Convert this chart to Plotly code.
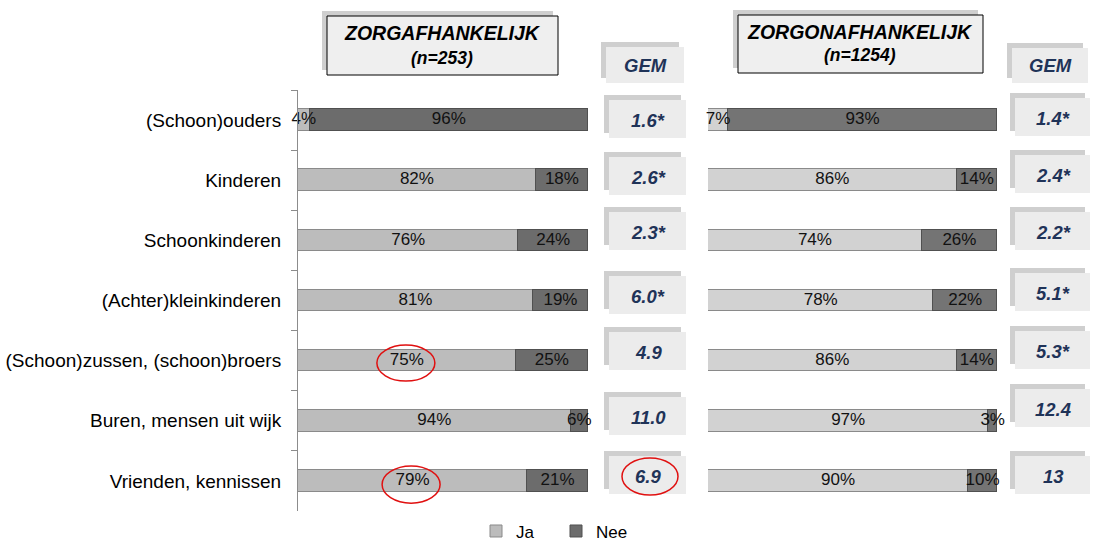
import plotly.graph_objects as go

# ---------------- data ----------------
categories = ["(Schoon)ouders", "Kinderen", "Schoonkinderen", "(Achter)kleinkinderen",
              "(Schoon)zussen, (schoon)broers", "Buren, mensen uit wijk", "Vrienden, kennissen"]
ja_dep = [4, 82, 76, 81, 75, 94, 79]
nee_dep = [96, 18, 24, 19, 25, 6, 21]
ja_indep = [7, 86, 74, 78, 86, 97, 90]
nee_indep = [93, 14, 26, 22, 14, 3, 10]
gem_dep = ["1.6*", "2.6*", "2.3*", "6.0*", "4.9", "11.0", "6.9"]
gem_indep = ["1.4*", "2.4*", "2.2*", "5.1*", "5.3*", "12.4", "13"]
title_dep = ["ZORGAFHANKELIJK", "(n=253)"]
title_indep = ["ZORGONAFHANKELIJK", "(n=1254)"]
gem_header = "GEM"
series_names = ["Ja", "Nee"]

# ---------------- layout helpers ----------------
W, H = 1094, 544
FONT = "Liberation Sans, Arial, sans-serif"


def px(x):
    return x / W


def py(y):
    return 1 - y / H


fig = go.Figure()

JA_L, NEE_L = "#bcbcbc", "#6c6c6c"
JA_R, NEE_R = "#d2d2d2", "#747474"
BAR_W = 0.36

for xa, ja, nee, cja, cnee, show in [("x", ja_dep, nee_dep, JA_L, NEE_L, True),
                                     ("x2", ja_indep, nee_indep, JA_R, NEE_R, False)]:
    fig.add_trace(go.Bar(y=categories, x=ja, orientation="h", name=series_names[0],
                         marker=dict(color=cja, line=dict(color="#8a8a8a", width=1)),
                         width=BAR_W, xaxis=xa, yaxis="y", showlegend=show,
                         legendgroup="ja", hoverinfo="skip"))
    fig.add_trace(go.Bar(y=categories, x=nee, orientation="h", name=series_names[1],
                         marker=dict(color=cnee, line=dict(color="#505050", width=1)),
                         width=BAR_W, xaxis=xa, yaxis="y", showlegend=show,
                         legendgroup="nee", hoverinfo="skip"))
    # value labels centred in each segment
    fig.add_trace(go.Scatter(y=categories, x=[v / 2 for v in ja], mode="text",
                             text=[f"{v}%" for v in ja], xaxis=xa, yaxis="y",
                             textfont=dict(family=FONT, size=17, color="#111"),
                             showlegend=False, hoverinfo="skip", cliponaxis=False))
    fig.add_trace(go.Scatter(y=categories, x=[a + b / 2 for a, b in zip(ja, nee)], mode="text",
                             text=[f"{v}%" for v in nee], xaxis=xa, yaxis="y",
                             textfont=dict(family=FONT, size=17, color="#111"),
                             showlegend=False, hoverinfo="skip", cliponaxis=False))

shapes = []
annotations = []


def box(x0, y0, x1, y1, fill, border=None, shadow="#cfcfcf", off=5):
    shapes.append(dict(type="rect", xref="paper", yref="paper",
                       x0=px(x0 - off), x1=px(x1 - off), y0=py(y1 - off), y1=py(y0 - off),
                       fillcolor=shadow, line=dict(width=0), layer="below"))
    shapes.append(dict(type="rect", xref="paper", yref="paper",
                       x0=px(x0), x1=px(x1), y0=py(y1), y1=py(y0),
                       fillcolor=fill,
                       line=dict(width=1 if border else 0, color=border or fill),
                       layer="below"))


def text(x, y, s, size, color, bold=True, italic=True):
    t = s
    if italic:
        t = f"<i>{t}</i>"
    if bold:
        t = f"<b>{t}</b>"
    annotations.append(dict(xref="paper", yref="paper", x=px(x), y=py(y), text=t,
                            showarrow=False, xanchor="center", yanchor="middle",
                            font=dict(family=FONT, size=size, color=color)))


# Title boxes
box(327, 16, 558, 75, "#efefef", border="#000000")
text(442, 33, title_dep[0], 19.5, "#000")
text(442, 58, title_dep[1], 17.5, "#000")
box(738, 15, 983, 73, "#efefef", border="#000000")
text(860, 32, title_indep[0], 19.5, "#000")
text(860, 55, title_indep[1], 17.5, "#000")

NAVY = "#1f3358"
# GEM headers
box(606, 47, 684, 83, "#ececec")
text(645, 65, gem_header, 18.5, NAVY)
box(1012, 48, 1088, 83, "#ececec")
text(1050, 65, gem_header, 18.5, NAVY)

# GEM value boxes (pixel centres of the boxes)
gem_left_y = [119, 176, 231, 295, 351, 416, 475]
gem_right_y = [117, 174, 231, 292, 350, 408, 475]
for yc, v in zip(gem_left_y, gem_dep):
    box(609, yc - 19, 686, yc + 19, "#ececec")
    text(648, yc + 1, v, 18.5, NAVY)
for yc, v in zip(gem_right_y, gem_indep):
    box(1015, yc - 19, 1090, yc + 19, "#ececec")
    text(1053, yc + 1, v, 18.5, NAVY)

# Red highlight ellipses
RED = "#e01010"
shapes.append(dict(type="circle", xref="x", yref="y", x0=27.2, x1=47.2, y0=3.74, y1=4.34,
                   line=dict(color=RED, width=1.5)))
shapes.append(dict(type="circle", xref="x", yref="y", x0=29.0, x1=49.0, y0=5.75, y1=6.37,
                   line=dict(color=RED, width=1.5)))
shapes.append(dict(type="circle", xref="paper", yref="paper", x0=px(622), x1=px(678),
                   y0=py(495), y1=py(458), line=dict(color=RED, width=1.5)))

fig.update_layout(
    width=W, height=H,
    margin=dict(l=0, r=0, t=0, b=0, autoexpand=False),
    paper_bgcolor="white", plot_bgcolor="white",
    barmode="stack",
    bargap=0.0,
    font=dict(family=FONT, size=17, color="#000"),
    xaxis=dict(domain=[px(298), px(588)], range=[0, 100], visible=False, fixedrange=True),
    xaxis2=dict(domain=[px(708), px(997)], range=[0, 100], visible=False, fixedrange=True,
                anchor="y"),
    yaxis=dict(domain=[py(511), py(90)], range=[6.5, -0.5], type="category",
               categoryorder="array", categoryarray=categories,
               showline=True, linecolor="#8c8c8c", linewidth=1,
               ticks="outside", tickson="boundaries", ticklen=6, tickcolor="#8c8c8c",
               showgrid=False, zeroline=False, automargin=False,
               tickfont=dict(family=FONT, size=19, color="#000"),
               ticklabelstandoff=12, anchor="x"),
    legend=dict(orientation="h", x=px(476), xanchor="left", y=-0.01, yanchor="bottom",
                font=dict(family=FONT, size=17, color="#000"),
                bgcolor="rgba(0,0,0,0)", traceorder="normal",
                entrywidth=35, entrywidthmode="pixels"),
    shapes=shapes,
    annotations=annotations,
    showlegend=True,
)

fig.write_html("out.html", post_script="document.body.style.margin='0';",
               config={"displayModeBar": False})
